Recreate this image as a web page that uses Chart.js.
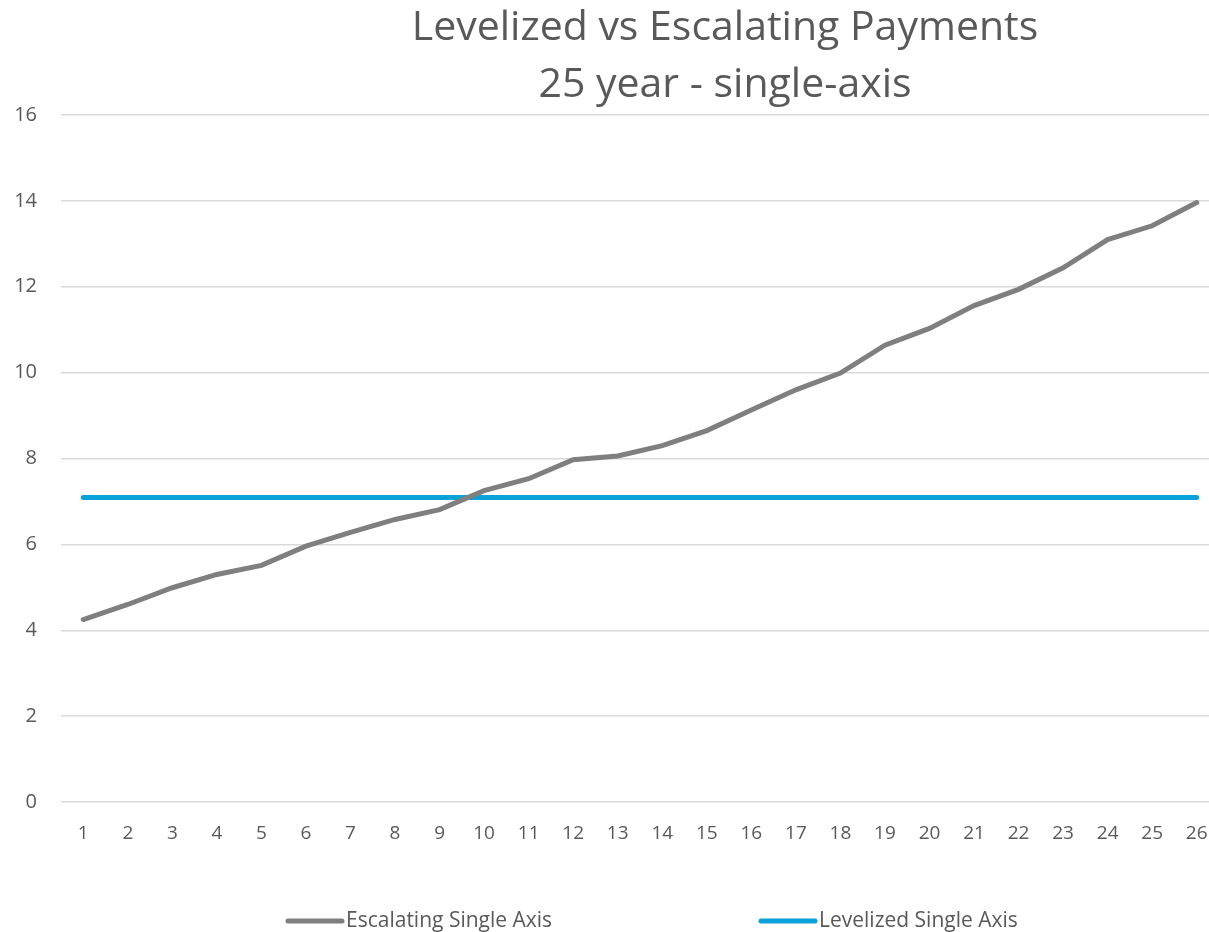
<!DOCTYPE html>
<html>
<head>
<meta charset="utf-8">
<script src="https://cdn.jsdelivr.net/npm/chart.js@4.4.1/dist/chart.umd.min.js"></script>
<style>
  html, body { margin: 0; padding: 0; background: #fff; overflow: hidden; }
  #wrap { width: 1209px; height: 932px; overflow: hidden; }
  canvas { display: block; }
</style>
</head>
<body>
<div id="wrap"><canvas id="chart" width="1230" height="932"></canvas></div>
<script>
const years = ['1','2','3','4','5','6','7','8','9','10','11','12','13','14','15','16','17','18','19','20','21','22','23','24','25','26'];
const escalating = [4.25, 4.60, 4.99, 5.30, 5.51, 5.96, 6.28, 6.58, 6.81, 7.25, 7.53, 7.97, 8.06, 8.30, 8.65, 9.13, 9.60, 9.99, 10.64, 11.03, 11.56, 11.94, 12.44, 13.10, 13.42, 13.96];
const levelized = [7.09, 7.09, 7.09, 7.09, 7.09, 7.09, 7.09, 7.09, 7.09, 7.09, 7.09, 7.09, 7.09, 7.09, 7.09, 7.09, 7.09, 7.09, 7.09, 7.09, 7.09, 7.09, 7.09, 7.09, 7.09, 7.09];
const titleLines = ['Levelized vs Escalating Payments', '25 year - single-axis'];

const font = '"Open Sans", sans-serif';
const textColor = '#595959';

// title sits right of centre in the original, so draw it ourselves
const titlePlugin = {
    id: 'offsetTitle',
    afterDraw(chart){
        const ctx = chart.ctx;
        ctx.save();
        ctx.fillStyle = textColor;
        ctx.font = '41px ' + font;
        ctx.textAlign = 'center';
        ctx.textBaseline = 'alphabetic';
        ctx.fillText(titleLines[0], 725, 40);
        ctx.fillText(titleLines[1], 725, 97);
        ctx.restore();
    }
};

// legend items are spread far apart, place them by hand
const legendPlugin = {
    id: 'spreadLegend',
    afterDraw(chart){
        const ctx = chart.ctx;
        const starts = [288, 761];
        ctx.save();
        ctx.font = '21px ' + font;
        ctx.textBaseline = 'middle';
        chart.data.datasets.forEach((ds, i) => {
            const x = starts[i], y = 921;
            ctx.strokeStyle = ds.borderColor;
            ctx.lineWidth = 5;
            ctx.lineCap = 'round';
            ctx.beginPath();
            ctx.moveTo(x, y);
            ctx.lineTo(x + 54, y);
            ctx.stroke();
            ctx.fillStyle = textColor;
            ctx.fillText(ds.label, x + 58, y);
        });
        ctx.restore();
    }
};

new Chart(document.getElementById('chart'), {
    type: 'line',
    data: {
        labels: years,
        datasets: [{
            label: 'Escalating Single Axis',
            data: escalating,
            borderColor: '#7f7f7f',
            backgroundColor: '#7f7f7f',
            borderWidth: 5,
            borderCapStyle: 'round',
            pointRadius: 0,
            tension: 0
        }, {
            label: 'Levelized Single Axis',
            data: levelized,
            borderColor: '#0aa2d9',
            backgroundColor: '#0aa2d9',
            borderWidth: 5,
            borderCapStyle: 'round',
            pointRadius: 0,
            tension: 0
        }]
    },
    options: {
        responsive: false,
        animation: false,
        layout: { padding: { left: 0, right: 11, top: 115, bottom: 0 } },
        plugins: {
            legend: { display: false },
            title: { display: false },
            tooltip: { enabled: false }
        },
        scales: {
            x: {
                offset: true,
                grid: { display: false, drawTicks: false },
                border: { display: false },
                ticks: { color: textColor, font: { family: font, size: 19 }, padding: 20, maxRotation: 0, autoSkip: false },
                afterFit(scale){ scale.height = 130; }
            },
            y: {
                min: 0,
                max: 16,
                ticks: { stepSize: 2, color: textColor, font: { family: font, size: 20 }, padding: 24 },
                grid: { color: '#d9d9d9', lineWidth: 1.5, drawTicks: false },
                border: { display: false },
                afterFit(scale){ scale.width = 61; }
            }
        }
    },
    plugins: [titlePlugin, legendPlugin]
});
</script>
</body>
</html>
